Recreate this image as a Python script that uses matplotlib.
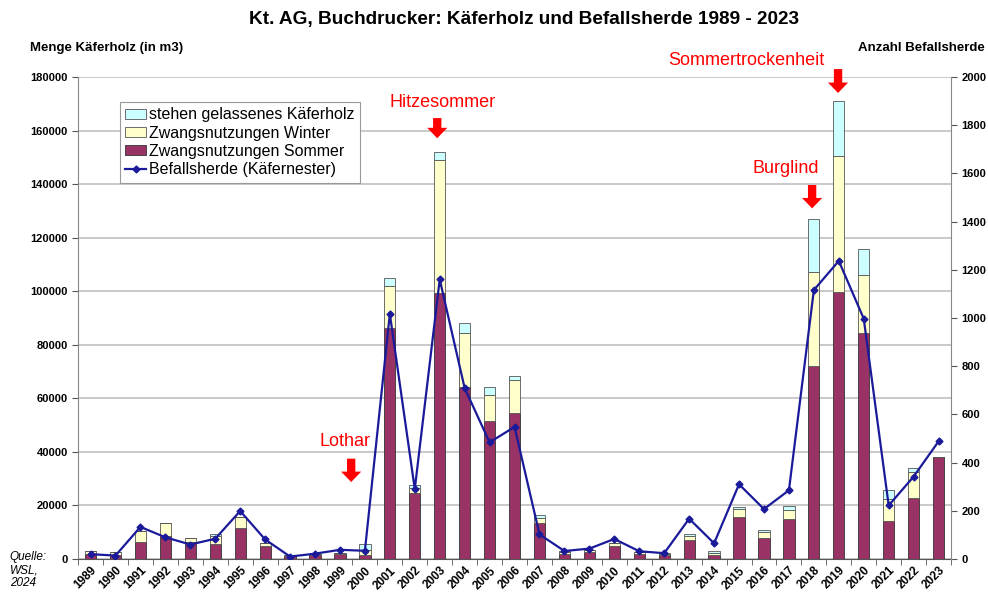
import numpy as np
import matplotlib
matplotlib.use("Agg")
import matplotlib.pyplot as plt

plt.rcParams['font.family'] = ['Liberation Sans', 'DejaVu Sans']

years = list(range(1989, 2024))
# Zwangsnutzungen Sommer (m3)
sommer = [2000, 1600, 6500, 8400, 6400, 5600, 11400, 4900, 1000, 1500, 1800, 1500,
          86300, 24500, 99200, 64200, 51700, 54600, 13500, 1700, 2500, 5000, 1700, 1600,
          7100, 1500, 15600, 7700, 15100, 72000, 99800, 84500, 14100, 22600, 38100]
# Zwangsnutzungen Winter (m3)
winter = [1000, 1000, 3900, 4900, 1500, 3000, 4300, 1100, 300, 300, 500, 1800,
          15800, 2100, 49700, 20300, 9700, 12100, 1900, 1000, 700, 800, 800, 400,
          1500, 800, 3000, 2300, 3100, 35100, 50600, 21600, 8200, 9800, 0]
# stehen gelassenes Käferholz (m3)
stehen = [0, 0, 0, 0, 0, 700, 0, 0, 0, 0, 0, 2200,
          2700, 1200, 3200, 3700, 2900, 1500, 1200, 300, 100, 0, 200, 100,
          700, 700, 900, 1000, 1700, 19700, 20500, 9800, 3500, 1700, 0]
# Befallsherde (Käfernester)
nester = [20, 14, 133, 90, 60, 84, 199, 81, 10, 22, 38, 34,
          1017, 290, 1160, 709, 484, 548, 102, 33, 43, 83, 32, 24,
          167, 65, 310, 207, 285, 1116, 1237, 997, 222, 342, 488]

# label, arrow x (category index), arrow start / end (m3), text position (figure fraction)
annotations = [("Lothar", 10.45, 38500, 27700, 0.349, 0.261),
               ("Hitzesommer", 13.9, 165700, 156100, 0.448, 0.828),
               ("Burglind", 28.93, 140700, 129900, 0.795, 0.717),
               ("Sommertrockenheit", 29.97, 184000, 173000, 0.755, 0.898)]

fig = plt.figure(figsize=(9.88, 5.97), dpi=100)
ax = fig.add_axes([0.079, 0.0637, 0.8836, 0.8073])
x = np.arange(len(years))
w = 0.45
sommer = np.array(sommer)
winter = np.array(winter)
stehen = np.array(stehen)

ax.bar(x, sommer, w, color='#993366', edgecolor='#333333', linewidth=0.6,
       label='Zwangsnutzungen Sommer', zorder=2)
ax.bar(x, winter, w, bottom=sommer, color='#FFFFCC', edgecolor='#555555', linewidth=0.6,
       label='Zwangsnutzungen Winter', zorder=2)
ax.bar(x, stehen, w, bottom=sommer + winter, color='#CCFFFF', edgecolor='#555555',
       linewidth=0.6, label='stehen gelassenes Käferholz', zorder=2)

ax.set_xlim(-0.5, len(years) - 0.5)
ax.set_ylim(0, 180000)
ax.set_yticks(np.arange(0, 180001, 20000))
ax.grid(axis='y', color='#c0c0c0', linewidth=1.2, zorder=0)
ax.set_axisbelow(True)
ax.set_xticks(x)
ax.set_xticklabels([str(y) for y in years], rotation=45, ha='right',
                   rotation_mode='anchor', fontsize=8.5, fontweight='bold')
ax.set_xticks(np.arange(-0.5, len(years), 1), minor=True)
ax.tick_params(axis='x', which='major', length=0, pad=4)
ax.tick_params(axis='x', which='minor', length=4, color='#555555')
ax.tick_params(axis='y', labelsize=8, length=4, color='#555555')
for lab in ax.get_yticklabels():
    lab.set_fontweight('bold')
ax.spines['top'].set_visible(False)
ax.spines['right'].set_visible(False)
ax.spines['left'].set_color('#888888')
ax.spines['bottom'].set_color('#555555')

ax2 = ax.twinx()
ax2.set_ylim(0, 2000)
ax2.set_yticks(np.arange(0, 2001, 200))
ax2.plot(x, nester, color='#1a1a9a', linewidth=1.6, marker='D', markersize=3.5,
         label='Befallsherde (Käfernester)', zorder=3)
ax2.tick_params(axis='y', labelsize=8, length=4, color='#555555')
for lab in ax2.get_yticklabels():
    lab.set_fontweight('bold')
for s in ['top', 'left', 'bottom']:
    ax2.spines[s].set_visible(False)
ax2.spines['right'].set_color('#888888')

for txt, ax_x, y0, y1, tx, ty in annotations:
    ax.annotate('', xy=(ax_x, y1), xytext=(ax_x, y0),
                arrowprops=dict(arrowstyle='simple,head_length=0.75,head_width=1.45,tail_width=0.6',
                                color='red', lw=0, mutation_scale=10),
                zorder=5, annotation_clip=False)
    fig.text(tx, ty, txt, color='red', fontsize=13, ha='center', va='center')

h1, l1 = ax.get_legend_handles_labels()
h2, l2 = ax2.get_legend_handles_labels()
order = [2, 1, 0]
leg = ax2.legend([h1[i] for i in order] + h2, [l1[i] for i in order] + l2,
                 loc='upper left', bbox_to_anchor=(0.044, 0.955), fontsize=11.5,
                 frameon=True, fancybox=False, edgecolor='#999999', framealpha=1,
                 handlelength=1.3, handleheight=0.6, handletextpad=0.2,
                 borderpad=0.35, labelspacing=0.2, borderaxespad=0.2)
leg.get_frame().set_linewidth(0.8)

fig.text(0.53, 0.968, 'Kt. AG, Buchdrucker: Käferholz und Befallsherde 1989 - 2023',
         ha='center', va='center', fontsize=13.7, fontweight='bold')
fig.text(0.03, 0.92, 'Menge Käferholz (in m3)', ha='left', va='center',
         fontsize=9.5, fontweight='bold')
fig.text(0.997, 0.92, 'Anzahl Befallsherde', ha='right', va='center',
         fontsize=9.5, fontweight='bold')
fig.text(0.01, 0.013, 'Quelle:\nWSL,\n2024', ha='left', va='bottom', fontsize=8.5,
         style='italic', linespacing=1.1)

fig.savefig('out.png', dpi=100)
